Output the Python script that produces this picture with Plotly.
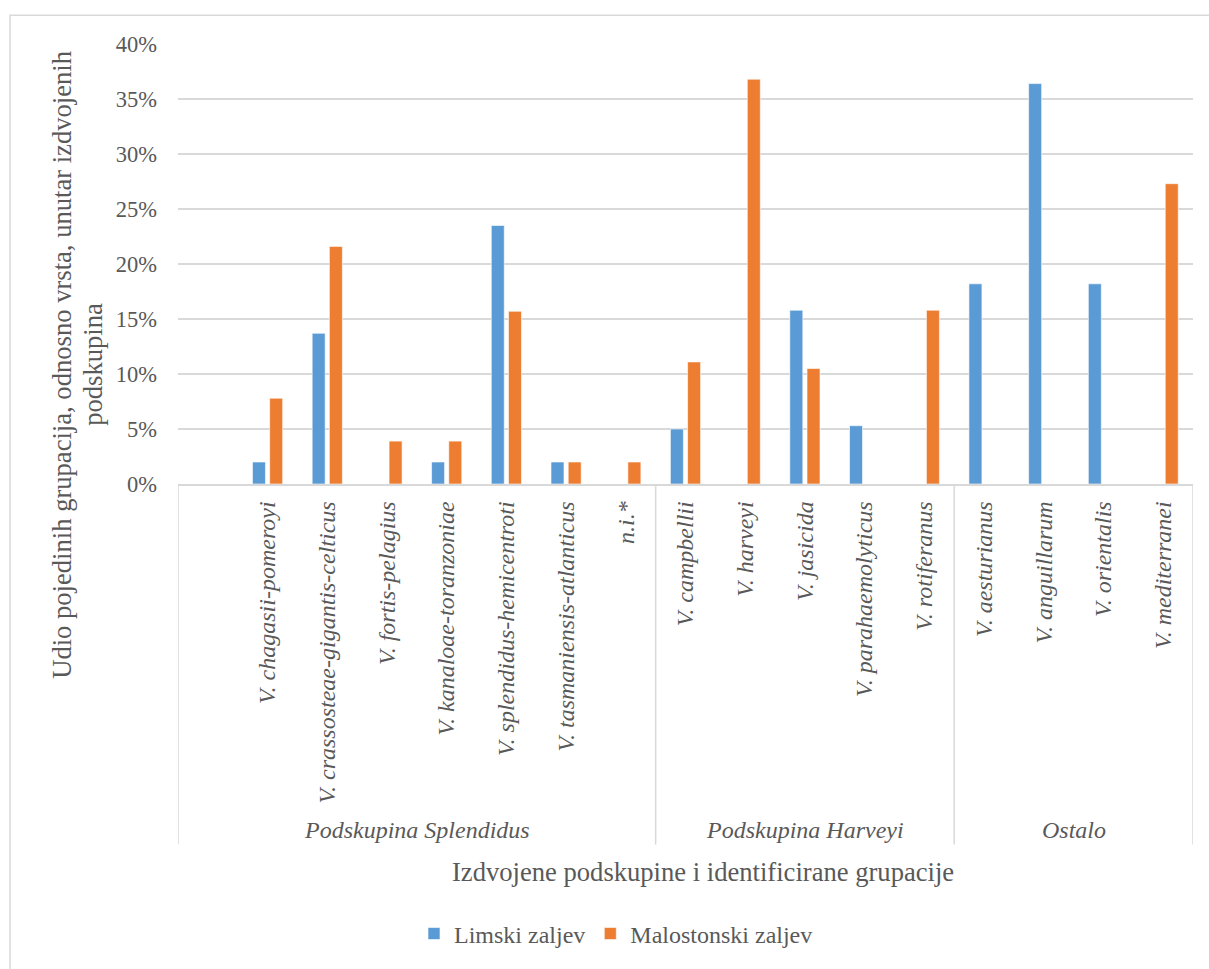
import plotly.graph_objects as go

# ---- data ----
categories = [
    " ",
    "V. chagasii-pomeroyi",
    "V. crassosteae-gigantis-celticus",
    "V. fortis-pelagius",
    "V. kanaloae-toranzoniae",
    "V. splendidus-hemicentroti",
    "V. tasmaniensis-atlanticus",
    "n.i.*",
    "V. campbellii",
    "V. harveyi",
    "V. jasicida",
    "V. parahaemolyticus",
    "V. rotiferanus",
    "V. aesturianus",
    "V. anguillarum",
    "V. orientalis",
    "V. mediterranei",
]
limski = [0, 2.0, 13.7, 0, 2.0, 23.5, 2.0, 0, 5.0, 0, 15.8, 5.3, 0, 18.2, 36.4, 18.2, 0]
malostonski = [0, 7.8, 21.6, 3.9, 3.9, 15.7, 2.0, 2.0, 11.1, 36.8, 10.5, 0, 15.8, 0, 0, 0, 27.3]
groups = ["Podskupina Splendidus", "Podskupina Harveyi", "Ostalo"]
group_sizes = [8, 5, 4]
series_names = ["Limski zaljev", "Malostonski zaljev"]
y_ticks = [0, 5, 10, 15, 20, 25, 30, 35, 40]
y_tick_labels = [f"{v}%" for v in y_ticks]

# ---- layout constants (pixels) ----
W, H = 1209, 969
L, R, T, B = 178, 16, 44, 482
PW, PH = W - L - R, H - T - B
FONT = "'Liberation Serif', 'Times New Roman', Times, 'DejaVu Serif', serif"
TXT = "#595959"
GRID = "#D9D9D9"


def px_x(p):
    return (p - L) / PW


def px_y(p):
    return (H - B - p) / PH


fig = go.Figure()
fig.add_trace(go.Bar(x=categories, y=limski, name=series_names[0],
                     marker=dict(color="#5B9BD5", line=dict(color="white", width=0.6))))
fig.add_trace(go.Bar(x=categories, y=malostonski, name=series_names[1],
                     marker=dict(color="#ED7D31", line=dict(color="white", width=0.6))))

shapes = []
# group separators
bounds = [-0.5]
for s in group_sizes:
    bounds.append(bounds[-1] + s)
for b in bounds:
    shapes.append(dict(type="line", xref="x", yref="paper", x0=b, x1=b,
                       y0=0, y1=px_y(850), line=dict(color=GRID, width=1.5)))
# outer chart border
shapes.append(dict(type="rect", xref="paper", yref="paper",
                   x0=px_x(10), x1=px_x(1216), y0=px_y(15), y1=px_y(976),
                   line=dict(color=GRID, width=1.5), fillcolor="rgba(0,0,0,0)"))

annotations = []
for i, g in enumerate(groups):
    center = (bounds[i] + bounds[i + 1]) / 2
    annotations.append(dict(text=g, x=center, xref="x", y=px_y(835), yref="paper",
                            showarrow=False, xanchor="center", yanchor="middle",
                            font=dict(family=FONT, size=24, color=TXT, style="italic")))
annotations.append(dict(text="Izdvojene podskupine i identificirane grupacije",
                        x=px_x(703), xref="paper", y=px_y(878), yref="paper",
                        showarrow=False, xanchor="center", yanchor="middle",
                        font=dict(family=FONT, size=26.6, color=TXT)))
annotations.append(dict(text="Udio pojedinih grupacija, odnosno vrsta, unutar izdvojenih",
                        x=px_x(62), xref="paper", y=px_y(367), yref="paper",
                        showarrow=False, xanchor="center", yanchor="middle", textangle=-90,
                        font=dict(family=FONT, size=26.6, color=TXT)))
annotations.append(dict(text="podskupina",
                        x=px_x(93), xref="paper", y=px_y(367), yref="paper",
                        showarrow=False, xanchor="center", yanchor="middle", textangle=-90,
                        font=dict(family=FONT, size=26.6, color=TXT)))

fig.update_layout(
    width=W, height=H,
    margin=dict(l=L, r=R, t=T, b=B, pad=0),
    paper_bgcolor="white", plot_bgcolor="white",
    barmode="group", bargap=0.424, bargroupgap=0.244,
    font=dict(family=FONT, color=TXT),
    shapes=shapes, annotations=annotations,
    showlegend=True,
    legend=dict(orientation="h", x=px_x(414), xanchor="left", y=px_y(940), yanchor="middle",
                font=dict(family=FONT, size=24, color=TXT), bgcolor="rgba(0,0,0,0)",
                itemclick=False),
)
fig.update_xaxes(
    type="category", range=[-0.5, len(categories) - 0.5],
    showline=True, linecolor=GRID, linewidth=1.5, ticks="", showgrid=False,
    tickangle=-90, tickfont=dict(family=FONT, size=24, color=TXT, style="italic"),
    ticklabelstandoff=6,
)
fig.update_yaxes(
    range=[0, 40], tickmode="array", tickvals=y_ticks, ticktext=y_tick_labels,
    showgrid=True, gridcolor=GRID, gridwidth=1.5, zeroline=False, showline=False,
    ticks="", tickfont=dict(family=FONT, size=22.5, color=TXT), ticklabelstandoff=20,
)

fig.write_html("out.html")
